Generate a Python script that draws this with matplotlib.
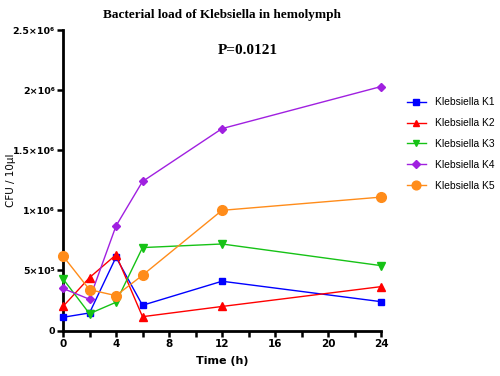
import matplotlib.pyplot as plt
from matplotlib.ticker import FixedLocator

time_h = [0, 2, 4, 6, 12, 24]
k1 = [0.11e6, 0.146e6, 0.61e6, 0.21e6, 0.41e6, 0.24e6]
k2 = [0.20e6, 0.44e6, 0.63e6, 0.115e6, 0.20e6, 0.365e6]
k3 = [0.43e6, 0.14e6, 0.235e6, 0.69e6, 0.72e6, 0.54e6]
k4 = [0.35e6, 0.26e6, 0.87e6, 1.24e6, 1.68e6, 2.03e6]
k5 = [0.62e6, 0.34e6, 0.29e6, 0.46e6, 1.0e6, 1.11e6]

y_ticks = [0, 0.5e6, 1e6, 1.5e6, 2e6, 2.5e6]
y_labels = ["0", "5×10⁵", "1×10⁶", "1.5×10⁶", "2×10⁶", "2.5×10⁶"]
x_ticks = [0, 4, 8, 12, 16, 20, 24]

fig = plt.figure(figsize=(5, 3.76), dpi=100)
ax = fig.add_axes([0.126, 0.121, 0.636, 0.799])

series = [
    ("Klebsiella K1", k1, "#0000ff", "s", 5),
    ("Klebsiella K2", k2, "#ff0000", "^", 5.5),
    ("Klebsiella K3", k3, "#16c216", "v", 5.5),
    ("Klebsiella K4", k4, "#a020e0", "D", 4),
    ("Klebsiella K5", k5, "#ff8c1a", "o", 7),
]
for name, vals, col, mk, ms in series:
    ax.plot(time_h, vals, color=col, marker=mk, markersize=ms, linewidth=1,
            label=name, clip_on=False, zorder=3)

ax.set_xlim(0, 24)
ax.set_ylim(0, 2.5e6)
ax.set_xticks(x_ticks)
ax.xaxis.set_minor_locator(FixedLocator(list(range(2, 24, 4))))
ax.set_yticks(y_ticks)
ax.set_yticklabels(y_labels)
for lab in ax.get_xticklabels():
    lab.set_fontweight("bold")
    lab.set_fontsize(7.5)
for lab in ax.get_yticklabels():
    lab.set_fontweight("bold")
    lab.set_fontsize(6.8)
ax.tick_params(which="both", direction="out", width=1.8, length=4, pad=2)
for s in ["top", "right"]:
    ax.spines[s].set_visible(False)
for s in ["left", "bottom"]:
    ax.spines[s].set_linewidth(2)

ax.set_xlabel("Time (h)", fontsize=8, fontweight="bold", labelpad=5)
fig.text(0.022, 0.52, "CFU / 10µl", fontsize=7.5, rotation=90,
         ha="center", va="center")

fig.text(0.444, 0.975, "Bacterial load of Klebsiella in hemolymph",
         family="Liberation Serif", fontweight="bold", fontsize=9.5,
         ha="center", va="top")
fig.text(0.496, 0.867, "P=0.0121", family="Liberation Serif",
         fontweight="bold", fontsize=11, ha="center", va="center")

leg = fig.legend(loc="upper left", bbox_to_anchor=(0.805, 0.752), frameon=False,
                 labelspacing=1.05, handlelength=1.9, handletextpad=0.9,
                 borderaxespad=0, prop={"family": "Liberation Sans", "size": 7.4})
for h in leg.legend_handles:
    h.set_markersize(h.get_markersize() * 0.9)

fig.savefig("out.png", dpi=100)
